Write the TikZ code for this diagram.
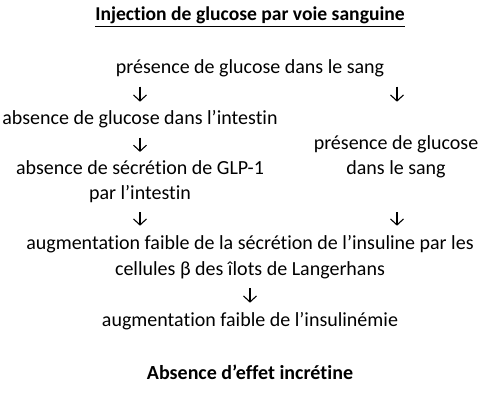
\documentclass[tikz,border=0pt]{standalone}
\usepackage{fontspec}
\setmainfont[Ligatures=NoCommon]{Carlito}
\usetikzlibrary{arrows.meta}

\begin{document}
\begin{tikzpicture}[x=1pt,y=-1pt]
\useasboundingbox (0,0) rectangle (500,403);
\begin{scope}[every node/.style={anchor=base,inner sep=0pt,font=\fontsize{20}{25}\selectfont}]
    \node (titre) at (250,21) {\fontsize{19.6}{24}\selectfont\textbf{\underline{Injection de glucose par voie sanguine}}};
    \node (pres)  at (250,74)   {présence de glucose dans le sang};
    \node (absg)  at (140,125)  {absence de glucose dans l’intestin};
    \node (pres2) at (396,150)  {présence de glucose};
    \node (sang)  at (396,174.5) {dans le sang};
    \node (abss)  at (140,175)  {absence de sécrétion de GLP-1};
    \node (parint) at (140,200) {par l’intestin};
    \node (aug1)  at (250,249)  {augmentation faible de la sécrétion de l’insuline par les};
    \node (cell)  at (250,275.5) {cellules β des îlots de Langerhans};
    \node (aug2)  at (250,326)  {augmentation faible de l’insulinémie};
    \node (concl) at (250,379)  {\textbf{Absence d’effet incrétine}};
\end{scope}

\coordinate (colL) at (140,0);
\coordinate (colR) at (397,0);
\coordinate (colM) at (250,0);

\begin{scope}[>={Straight Barb[length=6pt,width=13pt]},
              every edge/.style={draw=black,line width=1.1pt,
                                 shorten <=9pt,shorten >=9pt}]
    \path [->] (pres.south -| colL) edge (absg.north -| colL);
    \path [->] (pres.south -| colR) edge (absg.north -| colR);
    \path [->] (absg.south -| colL) edge (abss.north -| colL);
    \path [->] (parint.south -| colL) edge (aug1.north -| colL);
    \path [->] (parint.south -| colR) edge (aug1.north -| colR);
    \path [->] (cell.south -| colM) edge (aug2.north -| colM);
\end{scope}
\end{tikzpicture}
\end{document}
